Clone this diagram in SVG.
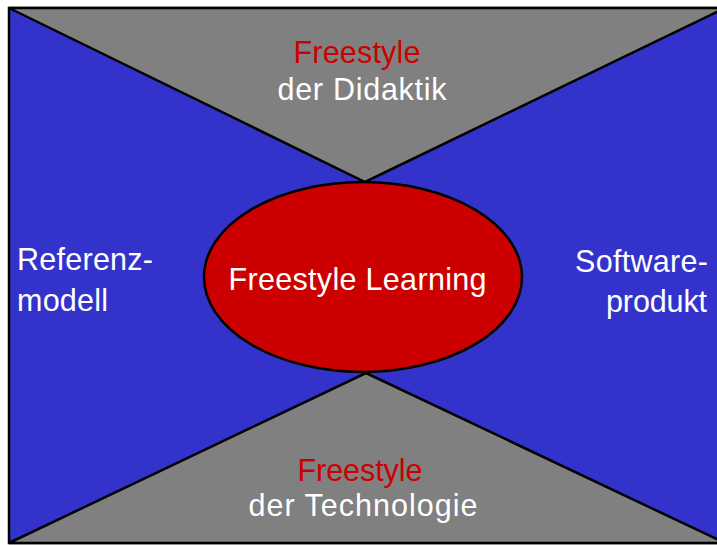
<svg xmlns="http://www.w3.org/2000/svg" width="717" height="545" viewBox="0 0 717 545">
<style>
.t{font-family:"Liberation Sans",Arial,sans-serif;font-size:30.5px}
.w{fill:#ffffff}
.r{fill:#cc0000}
.e{stroke:#000;stroke-width:2.5;stroke-linejoin:miter}
</style>
<rect width="717" height="545" fill="#ffffff"/>
<g id="background">
<rect x="9" y="8" width="716" height="535" fill="#3333cc" class="e"/>
</g>
<g id="top">
<polygon points="9,8 725,8 365,182" fill="#808080" class="e"/>
<text class="t r" x="357" y="63" text-anchor="middle" textLength="127" lengthAdjust="spacing">Freestyle</text>
<text class="t w" x="362" y="100" text-anchor="middle" textLength="169" lengthAdjust="spacing">der Didaktik</text>
</g>
<g id="bottom">
<polygon points="9,543 725,543 366,373" fill="#808080" class="e"/>
<text class="t r" x="360" y="481" text-anchor="middle" textLength="125" lengthAdjust="spacing">Freestyle</text>
<text class="t w" x="363" y="516" text-anchor="middle" textLength="229" lengthAdjust="spacing">der Technologie</text>
</g>
<g id="center">
<ellipse cx="363" cy="277" rx="159" ry="95" fill="#cc0000" class="e"/>
<text class="t w" x="357.5" y="290" text-anchor="middle" textLength="258" lengthAdjust="spacing">Freestyle Learning</text>
</g>
<g id="left">
<text class="t w" x="17" y="270" textLength="136" lengthAdjust="spacing">Referenz-</text>
<text class="t w" x="17" y="311" textLength="91" lengthAdjust="spacing">modell</text>
</g>
<g id="right">
<text class="t w" x="708" y="272" text-anchor="end" textLength="133" lengthAdjust="spacing">Software-</text>
<text class="t w" x="707" y="312" text-anchor="end" textLength="101" lengthAdjust="spacing">produkt</text>
</g>
<g id="connectors"></g>
</svg>
